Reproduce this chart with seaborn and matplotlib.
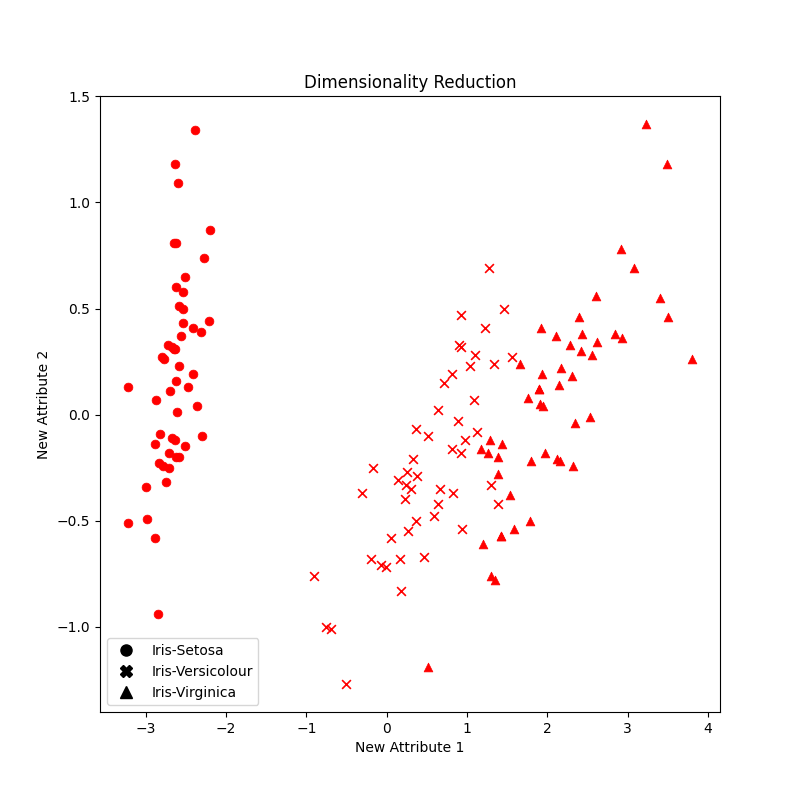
import matplotlib
matplotlib.use("Agg")
import matplotlib.pyplot as plt
import seaborn as sns
import pandas as pd
from matplotlib.lines import Line2D

setosa_x = [-2.68,-2.71,-2.89,-2.75,-2.73,-2.28,-2.82,-2.63,-2.89,-2.67,-2.51,-2.61,-2.79,-3.22,-2.64,-2.39,-2.62,-2.65,-2.20,-2.59,-2.31,-2.54,-3.22,-2.30,-2.36,-2.51,-2.47,-2.56,-2.64,-2.63,-2.59,-2.41,-2.65,-2.60,-2.64,-2.87,-2.63,-2.80,-2.98,-2.59,-2.77,-2.85,-3.00,-2.41,-2.21,-2.71,-2.54,-2.84,-2.54,-2.70]
setosa_y = [0.32,-0.18,-0.14,-0.32,0.33,0.74,-0.09,0.16,-0.58,-0.11,0.65,0.01,-0.24,-0.51,1.18,1.34,0.81,0.31,0.87,0.51,0.39,0.43,0.13,-0.10,0.04,-0.15,0.13,0.37,0.31,-0.20,-0.20,0.41,0.81,1.09,-0.12,0.07,0.60,0.27,-0.49,0.23,0.26,-0.94,-0.34,0.19,0.44,-0.25,0.50,-0.23,0.58,0.11]
versi_x = [1.28,0.93,1.46,0.18,1.09,0.64,1.10,-0.75,1.04,-0.01,-0.51,0.51,0.26,0.98,-0.17,0.93,0.66,0.24,0.94,0.05,1.12,0.36,1.30,0.92,0.71,0.90,1.33,1.56,0.81,-0.31,-0.07,-0.19,0.14,1.38,0.59,0.81,1.22,0.82,0.25,0.17,0.46,0.89,0.23,-0.70,0.36,0.33,0.38,0.64,-0.91,0.30]
versi_y = [0.69,0.32,0.50,-0.83,0.07,-0.42,0.28,-1.00,0.23,-0.72,-1.27,-0.10,-0.55,-0.12,-0.25,0.47,-0.35,-0.33,-0.54,-0.58,-0.08,-0.07,-0.33,-0.18,0.15,0.33,0.24,0.27,-0.16,-0.37,-0.71,-0.68,-0.31,-0.42,-0.48,0.19,0.41,-0.37,-0.27,-0.68,-0.67,-0.03,-0.40,-1.01,-0.50,-0.21,-0.29,0.02,-0.76,-0.35]
virg_x = [2.53,1.42,2.62,1.97,2.35,3.40,0.52,2.93,2.32,2.92,1.66,1.80,2.17,1.35,1.59,1.90,1.95,3.49,3.80,1.30,2.43,1.20,3.50,1.39,2.28,2.61,1.26,1.29,2.12,2.39,2.84,3.23,2.16,1.44,1.78,3.08,2.14,1.91,1.17,2.11,2.31,1.92,1.42,2.56,2.42,1.94,1.53,1.76,1.90,1.39]
virg_y = [-0.01,-0.57,0.34,-0.18,-0.04,0.55,-1.19,0.36,-0.24,0.78,0.24,-0.22,0.22,-0.78,-0.54,0.12,0.04,1.18,0.26,-0.76,0.38,-0.61,0.46,-0.20,0.33,0.56,-0.18,-0.12,-0.21,0.46,0.38,1.37,-0.22,-0.14,-0.50,0.69,0.14,0.05,-0.16,0.37,0.18,0.41,-0.57,0.28,0.30,0.19,-0.38,0.08,0.12,-0.28]
labels = ["Iris-Setosa", "Iris-Versicolour", "Iris-Virginica"]

fig, ax = plt.subplots(figsize=(8, 8), dpi=100)
sns.scatterplot(x=setosa_x, y=setosa_y, marker="o", color="red", edgecolor="red", linewidth=0.5, s=40, ax=ax, legend=False)
sns.scatterplot(x=versi_x, y=versi_y, marker="x", color="red", linewidth=1.2, s=40, ax=ax, legend=False)
sns.scatterplot(x=virg_x, y=virg_y, marker="^", color="red", edgecolor="red", linewidth=0.5, s=40, ax=ax, legend=False)

handles = [Line2D([], [], linestyle="", marker=m, color="black", markersize=8) for m in ["o", "X", "^"]]
ax.legend(handles, labels, loc="lower left")
ax.set_title("Dimensionality Reduction")
ax.set_xlabel("New Attribute 1")
ax.set_ylabel("New Attribute 2")
fig.savefig("out.png")
